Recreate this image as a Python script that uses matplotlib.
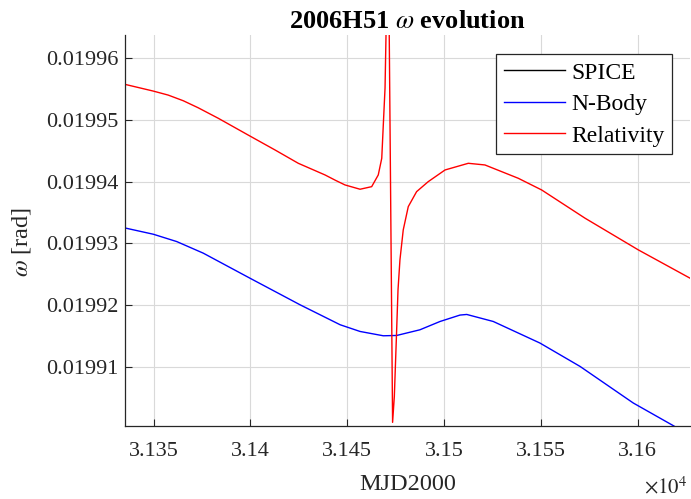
import matplotlib
matplotlib.use("Agg")
import matplotlib.pyplot as plt
import numpy as np
from matplotlib.ticker import FuncFormatter, FixedLocator

plt.rcParams['font.family'] = ['Liberation Serif', 'DejaVu Serif']
plt.rcParams['mathtext.fontset'] = 'stix'

# ---- data (MJD2000, omega in rad) ----
spice_t = []
spice_w = []

nbody_t = [31335.7, 31349.8, 31361.9, 31375.6, 31399.7, 31425.6, 31439.4, 31446.3,
           31456.6, 31468.6, 31475.5, 31487.5, 31497.9, 31508.2, 31511.7, 31525.4,
           31549.5, 31570.2, 31597.7, 31618.4, 31627.0]
nbody_d = [3.245, 3.147, 3.028, 2.840, 2.434, 2.002, 1.786, 1.678,
           1.569, 1.499, 1.504, 1.596, 1.731, 1.835, 1.845, 1.731,
           1.381, 1.002, 0.408, 0.040, -0.121]

rel_t = [31335.2, 31349.8, 31357.5, 31365.3, 31373.0, 31383.4, 31399.7, 31412.7,
         31424.7, 31438.5, 31444.0, 31448.8, 31456.6, 31462.6, 31466.0, 31467.8, 31468.6,
         31469.5, 31470.0, 31471.4, 31473.4, 31474.3, 31475.5, 31476.2, 31477.2,
         31478.9, 31481.5, 31485.8, 31491.8, 31500.5, 31512.5, 31521.1, 31538.3,
         31550.4, 31572.8, 31600.3, 31627.0]
rel_d = [5.579, 5.470, 5.405, 5.313, 5.199, 5.028, 4.741, 4.514,
         4.298, 4.109, 4.020, 3.947, 3.877, 3.919, 4.109, 4.379, 4.919,
         5.519, 6.378, 7.366, 0.094, 0.515, 1.596, 2.245, 2.731,
         3.217, 3.595, 3.838, 4.000, 4.190, 4.298, 4.271, 4.055,
         3.865, 3.407, 2.893, 2.434]

nbody_w = 0.0199 + np.array(nbody_d) * 1e-5
rel_w = 0.0199 + np.array(rel_d) * 1e-5

x_ticks = [31350, 31400, 31450, 31500, 31550, 31600]
y_ticks = [0.01991, 0.01992, 0.01993, 0.01994, 0.01995, 0.01996]

fig = plt.figure(figsize=(6.91, 4.99), dpi=100)
ax = fig.add_axes([125/691, 1-426.3/499, 565/691, (426.3-35)/499])

ax.plot(spice_t, spice_w, color='k', lw=1.0, label='SPICE')
ax.plot(nbody_t, nbody_w, color='#0000ff', lw=1.0, label='N-Body')
ax.plot(rel_t, rel_w, color='#ff0000', lw=1.0, label='Relativity')

ax.set_xlim(31335.2, 31627.0)
ax.set_ylim(0.0199003, 0.0199638)

ax.xaxis.set_major_locator(FixedLocator(x_ticks))
ax.yaxis.set_major_locator(FixedLocator(y_ticks))
ax.xaxis.set_major_formatter(FuncFormatter(lambda v, p: '%g' % round(v/1e4, 4)))
ax.yaxis.set_major_formatter(FuncFormatter(lambda v, p: '%.5f' % v))

dark = '#262626'
for s in ['top', 'right']:
    ax.spines[s].set_visible(False)
for s in ['left', 'bottom']:
    ax.spines[s].set_color(dark)
    ax.spines[s].set_linewidth(0.9)
ax.tick_params(direction='in', length=5, width=0.8, colors=dark, labelsize=16)
ax.tick_params(axis='x', pad=11)
ax.tick_params(axis='y', pad=5)
ax.grid(True, color='#d9d9d9', lw=0.8)
ax.set_axisbelow(True)

ax.set_title(r'2006H51 $\omega$ evolution', fontsize=19, fontweight='bold', pad=5)
ax.set_xlabel('MJD2000', fontsize=17.5, color=dark, labelpad=10)
ax.set_ylabel(r'$\omega$ [rad]', fontsize=17.5, color=dark)
ax.yaxis.set_label_coords(-0.163, 0.471)
ax.text(0.996, -0.172, r'$\times10^4$', transform=ax.transAxes, ha='right', va='baseline',
        fontsize=15, color=dark)

leg = ax.legend(loc='upper right', bbox_to_anchor=(672.3/691, 1-54.3/499),
                bbox_transform=fig.transFigure, fontsize=17, fancybox=False,
                framealpha=1, edgecolor=dark, handlelength=2.6, borderpad=0.33,
                labelspacing=0.42, handletextpad=0.25, borderaxespad=0)
leg.get_frame().set_linewidth(0.9)

fig.savefig('out.png', dpi=100)
